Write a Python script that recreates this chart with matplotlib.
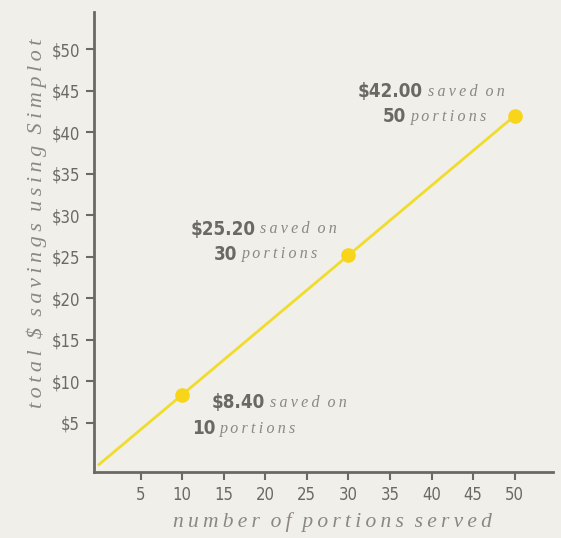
import matplotlib
matplotlib.use("Agg")
import matplotlib.pyplot as plt

# savings per number of portions served
portions = [0, 10, 30, 50]
savings = [0, 8.40, 25.20, 42.00]
labelled = [1, 2, 3]  # indices that get a marker and a callout

x_ticks = [5, 10, 15, 20, 25, 30, 35, 40, 45, 50]
y_ticks = [5, 10, 15, 20, 25, 30, 35, 40, 45, 50]

bg = "#f1efea"
grey = "#6c6864"
soft_grey = "#8c8783"
yellow = "#f0dc2c"
dot_yellow = "#f8d51b"

narrow = ["DejaVu Sans"]
serif = ["Liberation Serif", "DejaVu Serif"]
THIN = "\u2009"


def spaced(text):
    # letter-spaced italic captions
    return "  ".join(THIN.join(word) for word in text.split(" "))


fig = plt.figure(figsize=(5.61, 5.38), dpi=100, facecolor=bg)
ax = fig.add_axes([0.1676, 0.1227, 0.818, 0.855], facecolor=bg)

ax.plot(portions, savings, color=yellow, lw=2, zorder=2, clip_on=False)
ax.plot([portions[i] for i in labelled], [savings[i] for i in labelled],
        "o", color=dot_yellow, ms=9.5, zorder=3)

ax.set_xlim(-0.6, 54.6)
ax.set_ylim(-0.9, 54.5)

for s in ["top", "right"]:
    ax.spines[s].set_visible(False)
for s in ["left", "bottom"]:
    ax.spines[s].set_color(grey)
    ax.spines[s].set_linewidth(2)

ax.set_xticks(x_ticks)
ax.set_xticklabels([str(v) for v in x_ticks])
ax.set_yticks(y_ticks)
ax.set_yticklabels(["$%d" % v for v in y_ticks])
ax.tick_params(colors=grey, width=1.5, length=6, direction="out", pad=4)
for lab in ax.get_xticklabels() + ax.get_yticklabels():
    lab.set_family(narrow)
    lab.set_stretch("condensed")
    lab.set_fontsize(12)
    lab.set_color(grey)

ax.set_xlabel(spaced("number of portions served"), family=serif,
              style="italic", fontsize=15.5, color=soft_grey, va="center")
ax.set_ylabel(spaced("total $ savings using Simplot"), family=serif,
              style="italic", fontsize=16, color=soft_grey, va="center")
ax.xaxis.set_label_coords(0.52, -0.108)
ax.yaxis.set_label_coords(-0.124, 0.54)

# callout text: bold figure on the left of the anchor, italic words on the right
offsets = {
    1: [(85, -8), (35, -34)],
    2: [(-91, 26), (-109, 1)],
    3: [(-90, 24), (-107, -1)],
}
for i in labelled:
    lines = [("$%.2f" % savings[i], spaced("saved on")),
             ("%d" % portions[i], spaced("portions"))]
    for (bold, ital), (dx, dy) in zip(lines, offsets[i]):
        xy = (portions[i], savings[i])
        ax.annotate(bold, xy, xytext=(dx - 2, dy), textcoords="offset pixels",
                    ha="right", va="center", family=narrow, stretch="condensed",
                    weight="bold", fontsize=13.5, color=grey)
        ax.annotate(ital, xy, xytext=(dx + 3, dy), textcoords="offset pixels",
                    ha="left", va="center", family=serif, style="italic",
                    fontsize=11.5, color=soft_grey)

fig.savefig("out.png", dpi=100, facecolor=bg)
